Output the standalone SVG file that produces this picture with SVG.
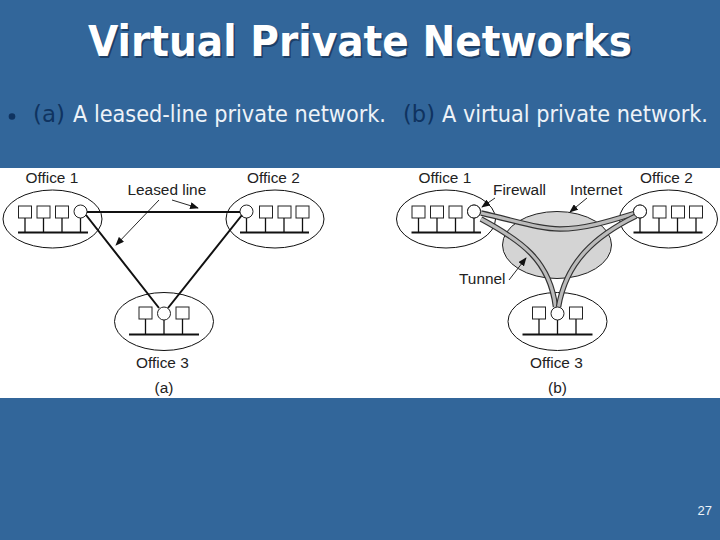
<svg xmlns="http://www.w3.org/2000/svg" width="720" height="540" viewBox="0 0 720 540">
<style>
.o{fill:none;stroke:#111;stroke-width:1}
.b{fill:#fff;stroke:#222;stroke-width:1}
.s{stroke:#111;stroke-width:1.3;fill:none}
.bus{stroke:#111;stroke-width:2;fill:none}
.l{stroke:#111;stroke-width:2;fill:none}
.a{stroke:#111;stroke-width:.9;fill:none;marker-end:url(#h)}
.t{font-family:"Liberation Sans",Arial,sans-serif;font-size:15.400px;fill:#222}
.tu1{fill:none;stroke:#333;stroke-width:5.500}
.tu2{fill:none;stroke:#bbb;stroke-width:3.200}
.ttl{font-family:"DejaVu Sans",sans-serif;font-weight:700;font-size:43px}
.body{font-family:"DejaVu Sans",sans-serif;font-stretch:condensed;font-size:23px;fill:#eef3f8}
.dk{fill:#0f3360}
</style>
<defs>
<marker id="h" viewBox="0 0 10 8" refX="9" refY="4" markerWidth="9" markerHeight="7" markerUnits="userSpaceOnUse" orient="auto"><path d="M0 0L10 4L0 8Z" fill="#111"/></marker>
</defs>
<rect width="720" height="540" fill="#32669a"/>
<g id="title"><text class="ttl" x="89.500" y="57.500" fill="#1d3f66" textLength="544" lengthAdjust="spacingAndGlyphs">Virtual Private Networks</text>
<text class="ttl" x="88" y="56" fill="#fff" textLength="544" lengthAdjust="spacingAndGlyphs">Virtual Private Networks</text></g>
<g id="bullet"><circle cx="12" cy="116.500" r="3.300" fill="#0f3360"/>
<text class="body dk" x="33" y="122" textLength="32" lengthAdjust="spacingAndGlyphs">(a)</text>
<text class="body" x="73" y="122" textLength="313" lengthAdjust="spacingAndGlyphs">A leased-line private network.</text>
<text class="body dk" x="403" y="122" textLength="32" lengthAdjust="spacingAndGlyphs">(b)</text>
<text class="body" x="442" y="122" textLength="266" lengthAdjust="spacingAndGlyphs">A virtual private network.</text></g>
<rect id="figure" x="0" y="168" width="720" height="230" fill="#fff"/>
<ellipse id="internet" cx="557" cy="245" rx="54.500" ry="33.500" fill="#d4d4d4" stroke="#222"/>
<g id="a-office1"><ellipse class="o" cx="52.500" cy="219" rx="49.500" ry="29"/>
<rect class="b" x="18.500" y="206" width="13" height="12"/><rect class="b" x="37" y="206" width="13" height="12"/><rect class="b" x="55.500" y="206" width="13" height="12"/><circle class="b" cx="80.500" cy="211.500" r="6.500"/>
<path class="s" d="M25 218V232M43.500 218V232M62 218V232M80.500 218V232"/><path class="bus" d="M18 232.500H88"/><text class="t" x="25.500" y="182.500">Office 1</text></g>
<g id="a-office2"><ellipse class="o" cx="275" cy="219" rx="49" ry="29"/>
<rect class="b" x="259.500" y="206" width="13" height="12"/><rect class="b" x="278" y="206" width="13" height="12"/><rect class="b" x="296" y="206" width="13" height="12"/><circle class="b" cx="246.500" cy="211.500" r="6.500"/>
<path class="s" d="M246.500 218V232M265.500 218V232M284 218V232M302.500 218V232"/><path class="bus" d="M240 232.500H309"/><text class="t" x="247" y="182.500">Office 2</text></g>
<g id="a-office3"><ellipse class="o" cx="164" cy="321.500" rx="49.500" ry="29"/>
<rect class="b" x="139" y="307" width="13" height="12"/><rect class="b" x="176" y="307" width="13" height="12"/><circle class="b" cx="164" cy="313.500" r="6.500"/>
<path class="s" d="M145.500 319V334M164 320V334M182.500 319V334"/><path class="bus" d="M129 334.500H199"/><text class="t" x="136" y="367.500">Office 3</text><text class="t" x="154.500" y="392.500">(a)</text></g>
<text class="t" x="127.500" y="194.500">Leased line</text>
<g id="b-office1"><ellipse class="o" cx="446" cy="219" rx="49.500" ry="29"/>
<rect class="b" x="412" y="206" width="13" height="12"/><rect class="b" x="430.500" y="206" width="13" height="12"/><rect class="b" x="449" y="206" width="13" height="12"/><circle class="b" cx="474" cy="211.500" r="6.500"/>
<path class="s" d="M418.500 218V232M437 218V232M455.500 218V232M474 218V232"/><path class="bus" d="M411.500 232.500H481"/><text class="t" x="418.500" y="182.500">Office 1</text></g>
<g id="b-office2"><ellipse class="o" cx="668.500" cy="219" rx="49" ry="29"/>
<rect class="b" x="653" y="206" width="13" height="12"/><rect class="b" x="671.500" y="206" width="13" height="12"/><rect class="b" x="689.500" y="206" width="13" height="12"/><circle class="b" cx="640" cy="211.500" r="6.500"/>
<path class="s" d="M640 218V232M659 218V232M677.500 218V232M696 218V232"/><path class="bus" d="M633.500 232.500H702.500"/><text class="t" x="640" y="182.500">Office 2</text></g>
<g id="b-office3"><ellipse class="o" cx="557.500" cy="321.500" rx="49.500" ry="29"/>
<rect class="b" x="532.500" y="307" width="13" height="12"/><rect class="b" x="569.500" y="307" width="13" height="12"/>
<path class="s" d="M539 319V334M557.500 320V334M576 319V334"/><path class="bus" d="M522.500 334.500H592.500"/><text class="t" x="530" y="367.500">Office 3</text><text class="t" x="548" y="392.500">(b)</text></g>
<text class="t" x="493" y="194.500">Firewall</text>
<text class="t" x="570" y="194.500">Internet</text>
<text class="t" x="459" y="283.500">Tunnel</text>
<g id="connectors">
<path class="l" d="M87 212H240M86 215L159 308M242 215L168 308"/>
<path class="a" d="M172 200L198 208"/>
<path class="a" d="M159 200L116 245"/>
<path class="tu1" d="M481 213C520 222 540 229 560 229C585 229 610 221 636 213"/>
<path class="tu2" d="M481 213C520 222 540 229 560 229C585 229 610 221 636 213"/>
<path class="tu1" d="M481 219C520 240 550 260 555.500 307"/>
<path class="tu2" d="M481 219C520 240 550 260 555.500 307"/>
<path class="tu1" d="M636 216C595 236 566 262 558.500 307"/>
<path class="tu2" d="M636 216C595 236 566 262 558.500 307"/>
<path class="a" d="M495 198L482 207"/>
<path class="a" d="M587 198L570 212"/>
<path class="a" d="M509 280L526 258"/>
</g>
<circle class="b" cx="474" cy="211.500" r="6.500"/><circle class="b" cx="640" cy="211.500" r="6.500"/><circle class="b" cx="557.500" cy="313.500" r="6.500"/>
<text id="page" x="697.500" y="515" font-family="'Liberation Sans',Arial,sans-serif" font-size="13" fill="#eef3f8">27</text>
</svg>
